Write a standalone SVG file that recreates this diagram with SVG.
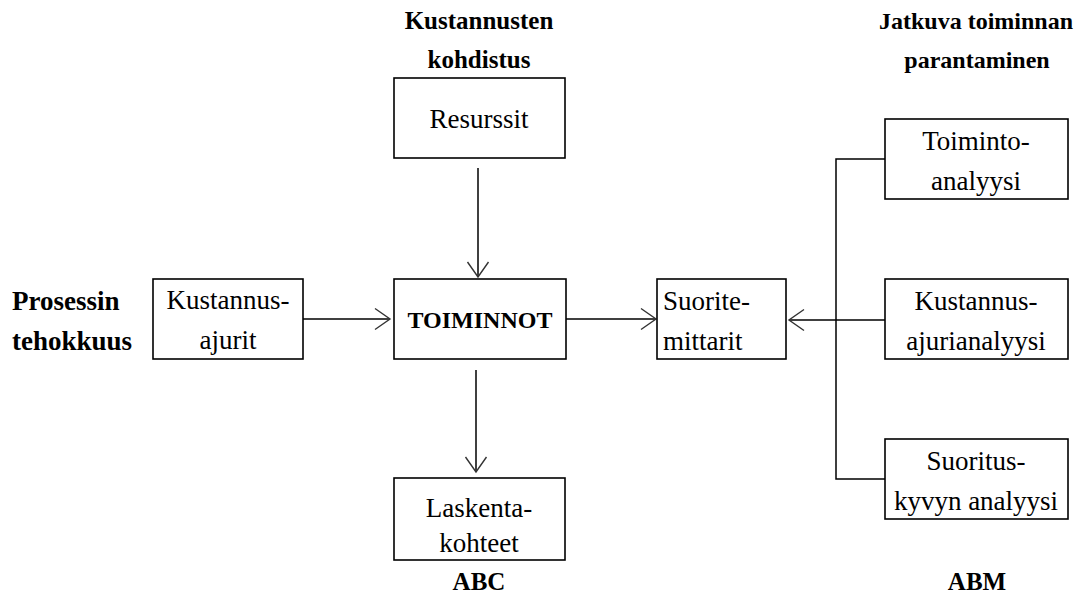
<svg xmlns="http://www.w3.org/2000/svg" width="1084" height="594" viewBox="0 0 1084 594">
<defs>
<style>
.box{fill:#fff;stroke:#000;stroke-width:1.6}
.t{font-family:"Liberation Serif","Times New Roman",serif;font-size:27px;fill:#000}
.c{text-anchor:middle}
.b{font-family:"Liberation Serif","Times New Roman",serif;font-size:24px;font-weight:bold;fill:#000}
.ln{fill:none;stroke:#000;stroke-width:1.5}
</style>
<marker id="ah" viewBox="0 0 18 24" refX="16" refY="12" markerWidth="18" markerHeight="24" markerUnits="userSpaceOnUse" orient="auto">
<path d="M1,1.5 L16,12 L1,22.5" fill="none" stroke="#333" stroke-width="1.4"/>
</marker>
</defs>
<rect width="1084" height="594" fill="#fff"/>
<g id="labels">
<text class="b c" x="479" y="29" style="font-size:25px">Kustannusten</text>
<text class="b c" x="479" y="68" style="font-size:25px">kohdistus</text>
<text class="b c" x="976" y="29">Jatkuva toiminnan</text>
<text class="b c" x="977" y="68">parantaminen</text>
<text class="b" x="12" y="310" style="font-size:27px">Prosessin</text>
<text class="b" x="12" y="350" style="font-size:27px">tehokkuus</text>
<text class="b c" x="479" y="590" style="font-size:25px">ABC</text>
<text class="b c" x="977" y="590" style="font-size:25px">ABM</text>
</g>
<g id="connectors">
<line class="ln" x1="478" y1="168" x2="478" y2="277" marker-end="url(#ah)"/>
<line class="ln" x1="303" y1="319" x2="390" y2="319" marker-end="url(#ah)"/>
<line class="ln" x1="566" y1="319" x2="656" y2="319" marker-end="url(#ah)"/>
<line class="ln" x1="476" y1="370" x2="476" y2="472" marker-end="url(#ah)"/>
<polyline class="ln" points="885,159 836,159 836,479 885,479"/>
<line class="ln" x1="885" y1="320" x2="789" y2="320" marker-end="url(#ah)"/>
</g>
<g id="resurssit"><rect class="box" x="394" y="78" width="171" height="80"/><text class="t c" x="479" y="128">Resurssit</text></g>
<g id="kustannusajurit"><rect class="box" x="153" y="279" width="150" height="80"/><text class="t c" x="228" y="309">Kustannus-</text><text class="t c" x="228" y="349">ajurit</text></g>
<g id="toiminnot"><rect class="box" x="394" y="279" width="172" height="80"/><text class="b c" x="480" y="328">TOIMINNOT</text></g>
<g id="suoritemittarit"><rect class="box" x="657" y="279" width="129" height="80"/><text class="t" x="663" y="310">Suorite-</text><text class="t" x="663" y="350">mittarit</text></g>
<g id="laskentakohteet"><rect class="box" x="394" y="478" width="171" height="82"/><text class="t c" x="479" y="517">Laskenta-</text><text class="t c" x="479" y="552">kohteet</text></g>
<g id="toimintoanalyysi"><rect class="box" x="885" y="119" width="183" height="80"/><text class="t c" x="976" y="150">Toiminto-</text><text class="t c" x="976" y="190">analyysi</text></g>
<g id="kustannusajurianalyysi"><rect class="box" x="885" y="279" width="183" height="80"/><text class="t c" x="976" y="310">Kustannus-</text><text class="t c" x="976" y="350">ajurianalyysi</text></g>
<g id="suorituskyvynanalyysi"><rect class="box" x="885" y="439" width="183" height="80"/><text class="t c" x="976" y="470">Suoritus-</text><text class="t c" x="976" y="510">kyvyn analyysi</text></g>
</svg>
